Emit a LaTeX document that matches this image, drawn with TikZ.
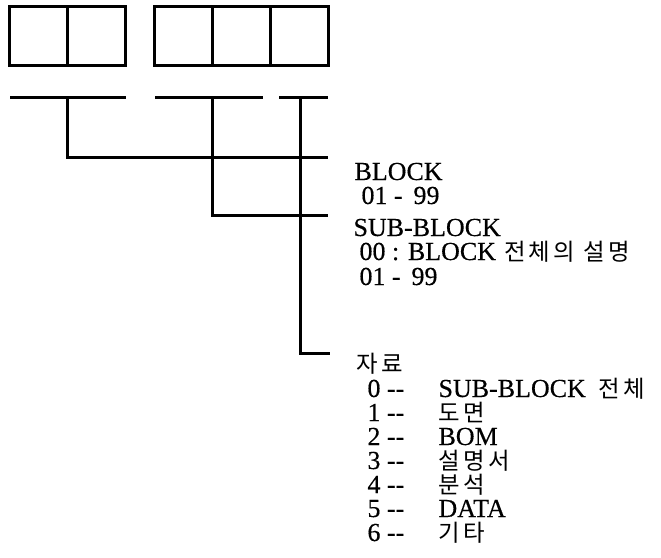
\documentclass[tikz,border=0pt]{standalone}
\usepackage{fontspec}
\setmainfont{Liberation Serif}[FakeBold=0.4]
\newfontfamily\kor{Noto Sans CJK KR}[Scale=0.9,LetterSpace=14]
\usetikzlibrary{calc}

\begin{document}
\begin{tikzpicture}[x=1pt,y=-1pt,line width=3pt,
    cell/.style={draw,minimum width=58pt,minimum height=59pt,inner sep=0pt,outer sep=0pt},
    lbl/.style={anchor=base west,inner sep=0pt,font=\fontsize{26}{26}\selectfont}]
  \useasboundingbox (0,0) rectangle (661,557);

  % code cells
  \foreach \i/\x in {1/38,2/96,3/183,4/241,5/299}
    \node[cell] (c\i) at (\x,36) {};

  % field underlines
  \draw (10,97) -- (126,97);
  \draw (155,97) -- (263,97);
  \draw (279,97) -- (328,97);

  \coordinate (u1) at (67,97);
  \coordinate (u2) at (212,97);
  \coordinate (u3) at (300,97);
  \coordinate (e1) at (328,157);
  \coordinate (e2) at (328,215);
  \coordinate (e3) at (330,353);

  \draw (u1) |- (e1);
  \draw (u2) |- (e2);
  \draw (u3) |- (e3);

  % labels
  \node[lbl] (blk) at (353,180) {BLOCK};
  \node[lbl] (blkr) at (360,204) {01 -\, 99};
  \node[lbl] (sub) at (352,236) {SUB-BLOCK};
  \node[lbl] (sub0) at (358,260) {00 : BLOCK\hspace{8pt}{\kor 전체의 설명}};
  \node[lbl] (subr) at (358,285) {01 -\, 99};
  \node[lbl] (dat) at (355,372) {\kor 자료};

  \foreach \n/\t [count=\k from 0] in {0/SUB-BLOCK \ {\kor 전체},1/{\kor 도면},2/BOM,
      3/{\kor 설명서},4/{\kor 분석},5/DATA,6/{\kor 기타}} {
    \node[lbl] (d\k) at (366,397+24*\k) {\n\ -{}-};
    \node[lbl] (t\k) at (437,397+24*\k) {\t};
  }
\end{tikzpicture}
\end{document}
